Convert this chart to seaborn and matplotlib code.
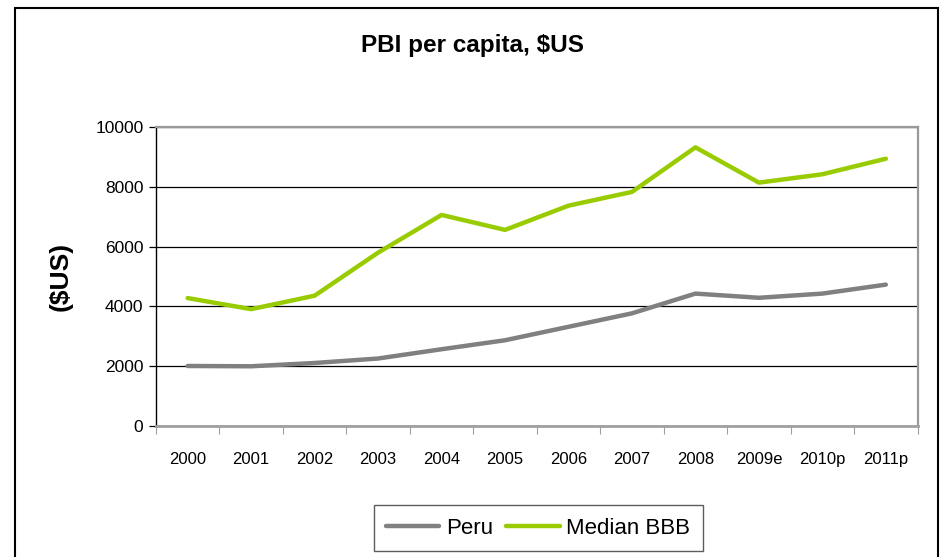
import numpy as np
import pandas as pd
import matplotlib
matplotlib.use("Agg")
import matplotlib.pyplot as plt
import seaborn as sns
from matplotlib.patches import Rectangle
from matplotlib.ticker import FixedLocator

# ── Data ──────────────────────────────────────────────────────────────────────
years = ["2000", "2001", "2002", "2003", "2004", "2005",
         "2006", "2007", "2008", "2009e", "2010p", "2011p"]
peru = [2010, 2000, 2110, 2260, 2570, 2870, 3320, 3770, 4430, 4290, 4430, 4730]
median_bbb = [4280, 3910, 4360, 5800, 7060, 6560, 7370, 7830, 9320, 8140, 8420, 8940]
series_names = ["Peru", "Median BBB"]
series_colors = ["#808080", "#99CC00"]

# ── Long-form table ───────────────────────────────────────────────────────────
pos = np.arange(len(years))
df = pd.concat([
    pd.DataFrame({"pos": pos, "value": peru, "serie": series_names[0]}),
    pd.DataFrame({"pos": pos, "value": median_bbb, "serie": series_names[1]}),
])

sns.set_style("white")
plt.rcParams["font.family"] = ["Liberation Sans", "DejaVu Sans"]
plt.rcParams.update({"text.color": "black", "axes.labelcolor": "black",
                     "xtick.color": "black", "ytick.color": "black"})

fig = plt.figure(figsize=(9.45, 5.57), dpi=100)
ax = fig.add_axes([0.165, 0.235, 0.806, 0.537])

sns.lineplot(data=df, x="pos", y="value", hue="serie",
             palette=series_colors, hue_order=series_names,
             linewidth=3.2, ax=ax, legend=True)

# ── Axes styling ──────────────────────────────────────────────────────────────
ax.set_xlim(-0.5, len(years) - 0.5)
ax.set_ylim(0, 10000)
ax.set_yticks([0, 2000, 4000, 6000, 8000, 10000])
ax.yaxis.grid(True, color="black", linewidth=0.9)
ax.set_axisbelow(True)

ax.set_xticks(pos)
ax.set_xticklabels(years, fontsize=12)
ax.xaxis.set_minor_locator(FixedLocator(np.arange(-0.5, len(years), 1.0)))
ax.tick_params(axis="x", which="major", length=0, pad=19)
ax.tick_params(axis="x", which="minor", length=6, width=0.8, color="#a0a0a0",
               direction="out", bottom=True)
ax.tick_params(axis="y", length=5, width=0.9, color="black", direction="out",
               labelsize=12.5, pad=4, left=True)

for side in ["top", "right"]:
    ax.spines[side].set_color("#999999")
    ax.spines[side].set_linewidth(1.6)
ax.spines["bottom"].set_color("#a0a0a0")
ax.spines["bottom"].set_linewidth(2.0)
ax.spines["left"].set_color("black")
ax.spines["left"].set_linewidth(1.0)

ax.set_xlabel("")
ax.set_ylabel("($US)", fontsize=19, fontweight="bold", labelpad=16)

fig.text(0.5, 0.918, "PBI per capita, $US", ha="center", va="center",
         fontsize=17.5, fontweight="bold")

# ── Legend ────────────────────────────────────────────────────────────────────
handles, labels = ax.get_legend_handles_labels()
leg = ax.legend(handles, labels, loc="center", bbox_to_anchor=(0.502, -0.341),
                bbox_transform=ax.transAxes, ncol=2, frameon=True, fancybox=False,
                fontsize=16, handlelength=2.4, handletextpad=0.3,
                columnspacing=0.6, borderpad=0.55, edgecolor="#333333")
leg.get_frame().set_linewidth(1.0)

# ── Outer frame ───────────────────────────────────────────────────────────────
fig.patches.append(Rectangle((15 / 945, -0.01), (938 - 15) / 945, 1 - 8 / 557 + 0.01,
                             transform=fig.transFigure, fill=False,
                             edgecolor="black", linewidth=1.5))

fig.savefig("out.png", dpi=100)
